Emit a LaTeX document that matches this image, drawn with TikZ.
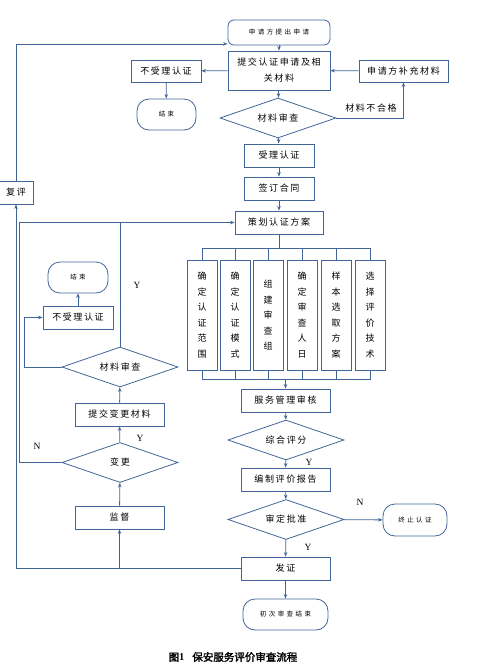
\documentclass[tikz,border=0pt]{standalone}
\usepackage{fontspec}
\setmainfont{Liberation Serif}
\newfontfamily\cjk[LetterSpace=18]{Noto Sans CJK SC}
\newfontfamily\cjks[LetterSpace=38]{Noto Sans CJK SC}
\newfontfamily\cjkv[AutoFakeBold=2]{Noto Sans CJK SC}
\usetikzlibrary{shapes.geometric,arrows.meta}
\definecolor{lc}{RGB}{65,101,152}
\begin{document}
\begin{tikzpicture}[x=1pt,y=-1pt,
  every node/.style={inner sep=0pt},
  ln/.style={draw=lc,line width=0.8pt},
  arr/.style={ln,-{Stealth[length=4.5pt,width=3.5pt]}},
  box/.style={ln,rectangle,font=\fontsize{9}{16}\cjk,align=center},
  rbox/.style={ln,rectangle,rounded corners=12pt,font=\fontsize{6.5}{7}\cjks},
  dia/.style={ln,diamond,aspect=3,minimum width=116pt,minimum height=40pt,font=\fontsize{9}{10}\cjk},
  vbox/.style={ln,rectangle,minimum width=30pt,minimum height=110pt,font=\fontsize{9}{15.5}\cjkv,align=center},
  lab/.style={font=\fontsize{9.5}{10}\selectfont},
]
\useasboundingbox (0,0) rectangle (477,670);

% top part
\node[rbox,rounded corners=6pt,minimum width=102pt,minimum height=25pt] (apply) at (279,32.5) {申请方提出申请};
\node[box,minimum width=102pt,minimum height=39pt] (submit) at (279,70.5) {提交认证申请及相\\关材料};
\node[box,minimum width=70pt,minimum height=22pt] (noacc1) at (166,71) {不受理认证};
\node[rbox,minimum width=59pt,minimum height=31pt] (end1) at (166.5,114.5) {结束};
\node[box,minimum width=89pt,minimum height=22pt] (supp) at (403.5,71) {申请方补充材料};
\node[dia] (rev1) at (278,118) {材料审查};
\node[box,minimum width=70pt,minimum height=23pt] (acc) at (279,155.5) {受理认证};
\node[box,minimum width=70pt,minimum height=23pt] (sign) at (279,188.5) {签订合同};
\node[box,minimum width=88pt,minimum height=23pt] (plan) at (279,222.5) {策划认证方案};
\node[box,minimum width=34pt,minimum height=23pt] (fp) at (16,192.5) {复评};

% six boxes
\node[vbox] (b1) at (202,315) {确\\定\\认\\证\\范\\围};
\node[vbox] (b2) at (235,315) {确\\定\\认\\证\\模\\式};
\node[vbox] (b3) at (268,315) {组\\建\\审\\查\\组};
\node[vbox] (b4) at (302,315) {确\\定\\审\\查\\人\\日};
\node[vbox] (b5) at (336,315) {样\\本\\选\\取\\方\\案};
\node[vbox] (b6) at (370,315) {选\\择\\评\\价\\技\\术};

% right column
\node[box,minimum width=89pt,minimum height=23pt] (audit) at (285.5,400.5) {服务管理审核};
\node[dia] (score) at (286,440) {综合评分};
\node[box,minimum width=89pt,minimum height=23pt] (report) at (285.5,479.5) {编制评价报告};
\node[dia] (appr) at (286,519.5) {审定批准};
\node[rbox,minimum width=64pt,minimum height=32pt] (stop) at (415,520) {终止认证};
\node[box,minimum width=89pt,minimum height=23pt] (cert) at (285.5,568.5) {发证};
\node[rbox,minimum width=85pt,minimum height=31pt] (fin) at (285.5,614.5) {初次审查结束};

% left column
\node[rbox,minimum width=60pt,minimum height=31pt] (end2) at (78,277.5) {结束};
\node[box,minimum width=70pt,minimum height=23pt] (noacc2) at (78,317.5) {不受理认证};
\node[dia] (rev2) at (120,367) {材料审查};
\node[box,minimum width=89pt,minimum height=23pt] (subchg) at (119.5,414.5) {提交变更材料};
\node[dia] (chg) at (120,462.5) {变更};
\node[box,minimum width=89pt,minimum height=23pt] (sup) at (119.5,517.5) {监督};

% caption
\node[font=\fontsize{10.5}{12}\selectfont] (cap) at (233,657) {{\cjkv\bfseries 图}\textbf{1}\hspace{8pt}{\cjkv\bfseries 保安服务评价审查流程}};

% connectors top
\draw[arr] (apply) -- (submit);
\draw[arr] (submit) -- (noacc1);
\draw[arr] (noacc1) -- (end1);
\draw[arr] (supp) -- (submit);
\draw[arr] (submit) -- (rev1);
\draw[arr] (rev1.east) -| (supp.south);
\node[font=\fontsize{9}{10}\cjk] (bad) at (371,108) {材料不合格};
\draw[arr] (rev1) -- (acc);
\draw[arr] (acc) -- (sign);
\draw[arr] (sign) -- (plan);

% outer loop via 复评
\draw[ln] (cert.west) -| (fp.south |- cert.west);
\draw[arr] (fp.south |- cert.west) -- (fp.south);
\draw[arr] (fp.north) |- ([yshift=1.5pt]apply.south west);

% bus to six boxes
\coordinate (bt) at (279,248);
\draw[ln] (plan.south) -- (bt);
\draw[ln] (b1.north) -- (b1.north |- bt) -- (b6.north |- bt) -- (b6.north);
\foreach \i in {2,3,4,5} \draw[ln] (b\i.north) -- (b\i.north |- bt);
\coordinate (bb) at (285.5,379);
\draw[ln] (b1.south) -- (b1.south |- bb) -- (b6.south |- bb) -- (b6.south);
\foreach \i in {2,3,4,5} \draw[ln] (b\i.south) -- (b\i.south |- bb);
\draw[arr] (bb) -- (audit.north);

% right column
\draw[arr] (audit) -- (score);
\draw[arr] (score) -- (report);
\node[lab] (y1) at (309,462) {Y};
\draw[arr] (report) -- (appr);
\draw[arr] (appr) -- (stop);
\node[lab] (n1) at (360,502) {N};
\draw[arr] (appr) -- (cert);
\node[lab] (y2) at (308,547) {Y};
\draw[arr] (cert) -- (fin);

% left column
\draw[arr] (sup.south |- cert.west) -- (sup.south);
\draw[arr] (sup) -- (chg);
\draw[arr] (chg) -- (subchg);
\node[lab] (y3) at (140,438) {Y};
\draw[arr] (subchg) -- (rev2);
\draw[arr] (chg.west) -- (19.5,462.5) |- (plan.west);
\node[lab] (n2) at (37,446) {N};
\draw[ln] (rev2.north) -- (rev2.north |- plan.west);
\node[lab] (y4) at (137,285) {Y};
\draw[arr] (rev2.west) -- (24.5,367) |- (noacc2.west);
\draw[arr] (noacc2) -- (end2);
\end{tikzpicture}
\end{document}
